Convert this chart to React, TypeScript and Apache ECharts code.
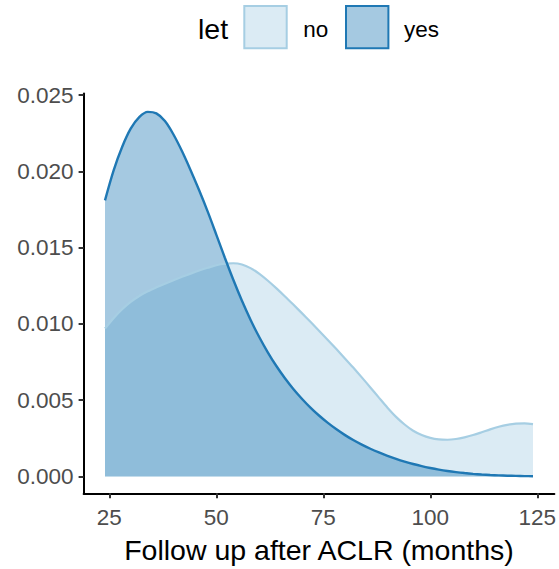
import { useEffect, useRef } from "react";
import * as echarts from "echarts";

const xValues = [
  24, 26, 28, 30, 32, 34, 36, 38, 40, 42, 44, 46, 48, 50, 52, 54, 56, 58, 60, 62,
  64, 66, 68, 70, 72, 74, 76, 78, 80, 82, 84, 86, 88, 90, 92, 94, 96, 98, 100, 102,
  104, 106, 108, 110, 112, 114, 116, 118, 120, 122, 124,
];

const noDensity = [
  0.0097, 0.01038, 0.01096, 0.01144, 0.01183, 0.01214, 0.0124, 0.01264, 0.01287,
  0.01309, 0.0133, 0.0135, 0.01368, 0.01385, 0.01395, 0.01398, 0.0139, 0.01366,
  0.0133, 0.01285, 0.01235, 0.01182, 0.01127, 0.01071, 0.01014, 0.00956, 0.00897,
  0.00837, 0.00776, 0.00714, 0.0065, 0.00584, 0.00517, 0.00451, 0.00391, 0.00341,
  0.003, 0.00272, 0.00253, 0.00243, 0.00241, 0.00246, 0.00257, 0.00272, 0.0029,
  0.00309, 0.00326, 0.00339, 0.00347, 0.00349, 0.00344,
];

const yesDensity = [
  0.0181, 0.02005, 0.0216, 0.0228, 0.02356, 0.0239, 0.0238, 0.0233, 0.02242,
  0.02132, 0.02008, 0.01876, 0.01736, 0.01586, 0.01434, 0.01288, 0.01152, 0.01028,
  0.00916, 0.00816, 0.00726, 0.00646, 0.00574, 0.0051, 0.00452, 0.004, 0.00353,
  0.00311, 0.00273, 0.00239, 0.00209, 0.00182, 0.00158, 0.00136, 0.00116, 0.00098,
  0.00082, 0.00068, 0.00056, 0.000455, 0.000365, 0.00029, 0.000227, 0.000175,
  0.000133, 0.0001, 0.000074, 0.000055, 0.00004, 0.000029, 0.000021,
];

const xTicks = [25, 50, 75, 100, 125];
const yTicks = [0, 0.005, 0.01, 0.015, 0.02, 0.025];
const legendTitle = "let";
const groupNames = ["no", "yes"];
const xTitle = "Follow up after ACLR (months)";

const FONT = "Liberation Sans, Arial, Helvetica, sans-serif";
const NO_LINE = "#A6CEE3";
const NO_FILL = "rgba(166,206,227,0.4)";
const YES_LINE = "#1F78B4";
const YES_FILL = "rgba(31,120,180,0.4)";

export default function App() {
  const ref = useRef<HTMLDivElement>(null);

  useEffect(() => {
    if (!ref.current) return;
    const chart = echarts.init(ref.current, null, { renderer: "svg" });
    const pairs = (ys: number[]) => xValues.map((x, i) => [x, ys[i]]);

    chart.setOption({
      animation: false,
      backgroundColor: "#ffffff",
      textStyle: { fontFamily: FONT },
      grid: {
        left: 83.6,
        top: 93.6,
        width: 470.8,
        height: 399.7,
        containLabel: false,
        outerBoundsMode: "none",
      },
      xAxis: {
        type: "value",
        min: 19,
        max: 129,
        splitLine: { show: false },
        axisLine: { show: true, onZero: false, lineStyle: { color: "#000000", width: 2 } },
        axisTick: {
          show: true,
          length: 5,
          customValues: xTicks,
          lineStyle: { color: "#333333", width: 2 },
        },
        axisLabel: {
          customValues: xTicks,
          margin: 13,
          color: "#4D4D4D",
          fontSize: 22.5,
          fontFamily: FONT,
        },
        name: xTitle,
        nameLocation: "middle",
        nameGap: 42,
        nameTextStyle: { color: "#000000", fontSize: 28.5, fontFamily: FONT },
      },
      yAxis: {
        type: "value",
        min: -0.0011,
        max: 0.0251,
        splitLine: { show: false },
        axisLine: { show: true, onZero: false, lineStyle: { color: "#000000", width: 2 } },
        axisTick: {
          show: true,
          length: 5,
          customValues: yTicks,
          lineStyle: { color: "#333333", width: 2 },
        },
        axisLabel: {
          customValues: yTicks,
          margin: 10,
          color: "#4D4D4D",
          fontSize: 22.5,
          fontFamily: FONT,
          formatter: (v: number) => v.toFixed(3),
        },
      },
      graphic: [
        {
          type: "text",
          x: 198,
          y: 29,
          style: {
            text: legendTitle,
            fill: "#000000",
            fontSize: 28.5,
            fontFamily: FONT,
            verticalAlign: "middle",
            align: "left",
          },
        },
        {
          type: "rect",
          shape: { x: 244.3, y: 6, width: 42.4, height: 42.3 },
          style: { fill: NO_FILL, stroke: NO_LINE, lineWidth: 2 },
        },
        {
          type: "text",
          x: 303.3,
          y: 29,
          style: {
            text: groupNames[0],
            fill: "#000000",
            fontSize: 22.5,
            fontFamily: FONT,
            verticalAlign: "middle",
            align: "left",
          },
        },
        {
          type: "rect",
          shape: { x: 346, y: 6, width: 42.4, height: 42.3 },
          style: { fill: YES_FILL, stroke: YES_LINE, lineWidth: 2 },
        },
        {
          type: "text",
          x: 404,
          y: 29,
          style: {
            text: groupNames[1],
            fill: "#000000",
            fontSize: 22.5,
            fontFamily: FONT,
            verticalAlign: "middle",
            align: "left",
          },
        },
      ],
      series: [
        {
          type: "line",
          name: groupNames[0],
          data: pairs(noDensity),
          smooth: 0.3,
          showSymbol: false,
          silent: true,
          lineStyle: { color: NO_LINE, width: 2.2 },
          itemStyle: { color: NO_LINE },
          areaStyle: { color: NO_FILL, opacity: 1 },
        },
        {
          type: "line",
          name: groupNames[1],
          data: pairs(yesDensity),
          smooth: 0.3,
          showSymbol: false,
          silent: true,
          lineStyle: { color: YES_LINE, width: 2.4 },
          itemStyle: { color: YES_LINE },
          areaStyle: { color: YES_FILL, opacity: 1 },
        },
      ],
    });

    return () => chart.dispose();
  }, []);

  return (
    <div
      ref={ref}
      style={{ position: "fixed", left: 0, top: 0, width: 559, height: 569 }}
    />
  );
}
